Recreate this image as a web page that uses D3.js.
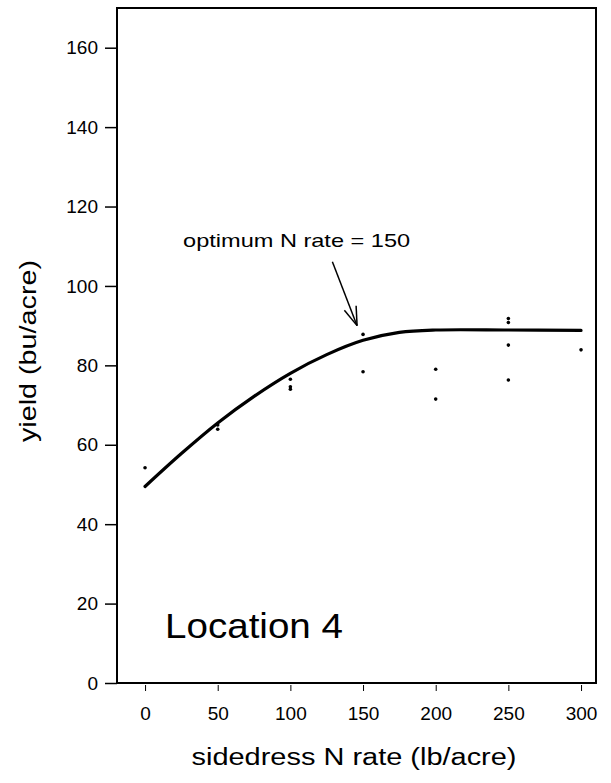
<!DOCTYPE html>
<html>
<head>
<meta charset="utf-8">
<script src="https://cdn.jsdelivr.net/npm/d3@7"></script>
<style>
  html, body { margin: 0; padding: 0; background: #fff; }
  svg { display: block; }
  text { font-family: "Liberation Sans", Arial, Helvetica, sans-serif; fill: #000; }
</style>
</head>
<body>
<svg id="chart" width="611" height="783"></svg>
<script>
// ---- data ----
const xTicks = [0, 50, 100, 150, 200, 250, 300];
const yTicks = [0, 20, 40, 60, 80, 100, 120, 140, 160];

// observed yields
const obsN     = [0, 50, 50, 100, 100, 100, 150, 150, 200, 200, 250, 250, 250, 250, 300];
const obsYield = [54.2, 65.0, 63.9, 76.5, 74.6, 74.0, 87.8, 78.4, 79.0, 71.5, 91.8, 90.8, 85.1, 76.3, 83.9];

// fitted response curve
const fitN     = [0, 25, 50, 75, 100, 125, 150, 175, 200, 250, 300];
const fitYield = [49.5, 57.8, 65.5, 72.2, 78.0, 82.7, 86.3, 88.3, 88.9, 88.9, 88.8];

const titleText = "Location 4";
const annotText = "optimum N rate = 150";
const xLabel = "sidedress N rate (lb/acre)";
const yLabel = "yield (bu/acre)";

// ---- layout ----
const svg = d3.select("#chart");
const L = 117, R = 596, T = 8, B = 683;

const x = d3.scaleLinear().domain([-19.3, 310.3]).range([L, R]);
const y = d3.scaleLinear().domain([0, 170]).range([B, T]);

// frame
svg.append("rect")
  .attr("x", L).attr("y", T).attr("width", R - L).attr("height", B - T)
  .attr("fill", "none").attr("stroke", "#000").attr("stroke-width", 2);

// y axis
const yAxis = d3.axisLeft(y).tickValues(yTicks).tickSize(12).tickPadding(7).tickFormat(d3.format("d"));
const gy = svg.append("g").attr("transform", `translate(${L},0)`).call(yAxis);
gy.select(".domain").remove();
gy.selectAll(".tick line").attr("stroke", "#000").attr("stroke-width", 1.5);
gy.selectAll(".tick text").attr("font-size", 19).attr("font-family", "Liberation Sans, Arial, sans-serif");

// x axis
const xAxis = d3.axisBottom(x).tickValues(xTicks).tickSize(6).tickPadding(16).tickFormat(d3.format("d"));
const gx = svg.append("g").attr("transform", `translate(0,${B + 2})`).call(xAxis);
gx.select(".domain").remove();
gx.selectAll(".tick line").attr("stroke", "#000").attr("stroke-width", 1);
gx.selectAll(".tick text").attr("font-size", 19).attr("font-family", "Liberation Sans, Arial, sans-serif");

// fitted curve
const line = d3.line().x(d => x(d[0])).y(d => y(d[1])).curve(d3.curveCatmullRom.alpha(0.5));
svg.append("path")
  .datum(fitN.map((n, i) => [n, fitYield[i]]))
  .attr("d", line)
  .attr("fill", "none").attr("stroke", "#000").attr("stroke-width", 3.2)
  .attr("stroke-linecap", "round");

// observations
svg.append("g").selectAll("circle")
  .data(obsN.map((n, i) => [n, obsYield[i]]))
  .join("circle")
  .attr("cx", d => x(d[0])).attr("cy", d => y(d[1]))
  .attr("r", 1.8).attr("fill", "#000");

// annotation with arrow (data coordinates)
const arrowFrom = [128.9, 106.1], arrowTo = [145.9, 90.0];
const ax1 = x(arrowFrom[0]), ay1 = y(arrowFrom[1]), ax2 = x(arrowTo[0]), ay2 = y(arrowTo[1]);
svg.append("line").attr("x1", ax1).attr("y1", ay1).attr("x2", ax2).attr("y2", ay2)
  .attr("stroke", "#000").attr("stroke-width", 1.5);
const ang = Math.atan2(ay2 - ay1, ax2 - ax1);
const hl = 20, spread = 0.32;
[ang + Math.PI - spread, ang + Math.PI + spread].forEach(a => {
  svg.append("line").attr("x1", ax2).attr("y1", ay2)
    .attr("x2", ax2 + hl * Math.cos(a)).attr("y2", ay2 + hl * Math.sin(a))
    .attr("stroke", "#000").attr("stroke-width", 1.5);
});
svg.append("text").attr("x", x(26.2)).attr("y", y(109.8))
  .attr("font-size", 19).attr("textLength", 227).attr("lengthAdjust", "spacingAndGlyphs")
  .text(annotText);

// location label
svg.append("text").attr("x", 165).attr("y", 638)
  .attr("font-size", 35).attr("textLength", 178).attr("lengthAdjust", "spacingAndGlyphs")
  .text(titleText);

// axis titles
svg.append("text").attr("x", 354).attr("y", 765).attr("text-anchor", "middle")
  .attr("font-size", 23).attr("textLength", 325).attr("lengthAdjust", "spacingAndGlyphs")
  .text(xLabel);
svg.append("text").attr("transform", "translate(36,351) rotate(-90)").attr("text-anchor", "middle")
  .attr("font-size", 24).attr("textLength", 182).attr("lengthAdjust", "spacingAndGlyphs")
  .text(yLabel);
</script>
</body>
</html>
